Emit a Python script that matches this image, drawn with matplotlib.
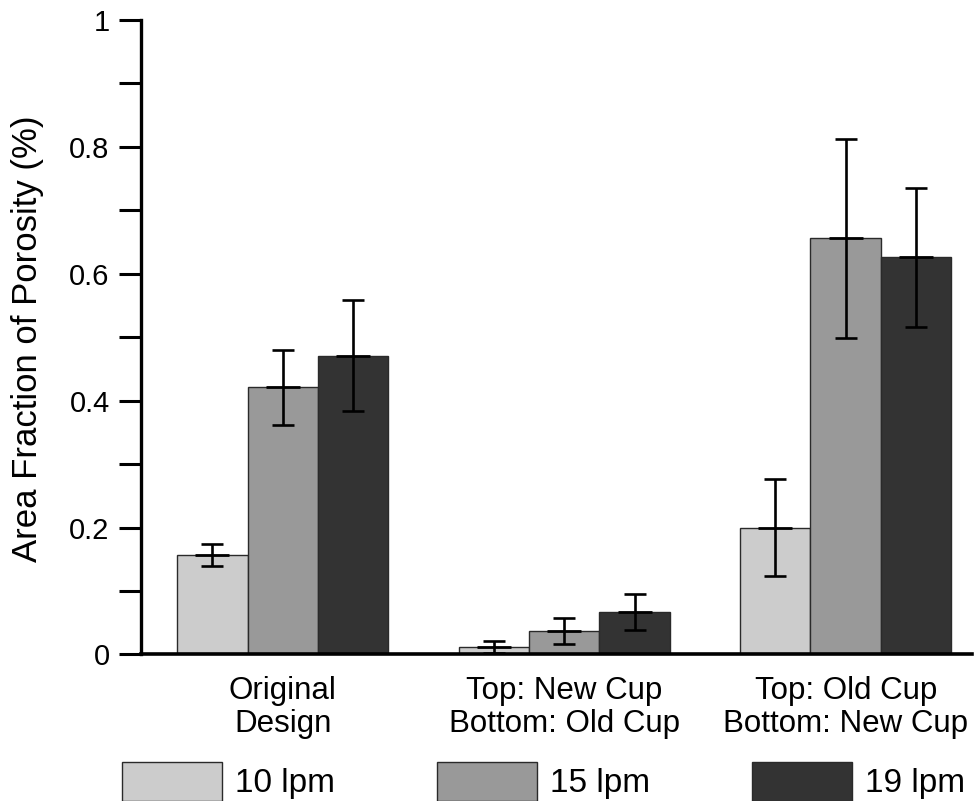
import numpy as np
import matplotlib
matplotlib.use("Agg")
import matplotlib.pyplot as plt
from matplotlib.ticker import MultipleLocator, FuncFormatter

plt.rcParams['font.family'] = ['Liberation Sans', 'DejaVu Sans']

# Cup configurations (x categories)
categories = ["Original\nDesign", "Top: New Cup\nBottom: Old Cup", "Top: Old Cup\nBottom: New Cup"]

# Gas flow rates (series)
series_labels = ["10 lpm", "15 lpm", "19 lpm"]
series_colors = ["#cccccc", "#999999", "#333333"]

# Mean area fraction of porosity (%) per configuration
porosity_10 = [0.157, 0.012, 0.200]
porosity_15 = [0.421, 0.037, 0.656]
porosity_19 = [0.471, 0.067, 0.626]

# Error bar half-widths
error_10 = [0.017, 0.009, 0.076]
error_15 = [0.059, 0.021, 0.157]
error_19 = [0.087, 0.028, 0.110]

means = [porosity_10, porosity_15, porosity_19]
errors = [error_10, error_15, error_19]

fig = plt.figure(figsize=(9.77, 8.01), dpi=100)
ax = fig.add_axes([0.1443, 0.1829, 0.8506, 0.7921])

x = np.arange(len(categories))
width = 0.25
offsets = [-width, 0.0, width]

for vals, errs, color, label, off in zip(means, errors, series_colors, series_labels, offsets):
    xs = x + off
    ax.bar(xs, vals, width=width, color=color, edgecolor="#2a2a2a",
           linewidth=1.0, label=label, zorder=2)
    ax.errorbar(xs, vals, yerr=errs, fmt="none", ecolor="black",
                elinewidth=1.9, capsize=8, capthick=1.9, zorder=3)
    ax.plot(xs, vals, ls="none", marker="_", ms=24, mew=2.0,
            color="black", zorder=3)

ax.set_xlim(-0.504, 2.449)
ax.set_ylim(0, 1)

for side in ("top", "right"):
    ax.spines[side].set_visible(False)
ax.spines["left"].set_linewidth(2.4)
ax.spines["bottom"].set_linewidth(2.6)

ax.yaxis.set_major_locator(MultipleLocator(0.2))
ax.yaxis.set_minor_locator(MultipleLocator(0.1))
ax.yaxis.set_major_formatter(FuncFormatter(lambda v, _: f"{v:g}"))
ax.tick_params(axis="y", which="both", direction="out", length=16,
               width=2.2, labelsize=21, pad=6.5)

ax.set_xticks(x)
ax.set_xticklabels(categories, fontsize=22.5, linespacing=1.13)
ax.tick_params(axis="x", length=0, pad=15.5)

ax.set_ylabel("Area Fraction of Porosity (%)", fontsize=25)
ax.yaxis.set_label_coords(-0.117, 0.497)

fig.legend(loc="upper left", bbox_to_anchor=(0.1248, 1 - 762 / 801),
           ncol=3, frameon=False, fontsize=24, handlelength=3.0,
           handleheight=1.4, handletextpad=0.4, columnspacing=3.05,
           borderpad=0, borderaxespad=0)

fig.savefig("out.png", dpi=100)
